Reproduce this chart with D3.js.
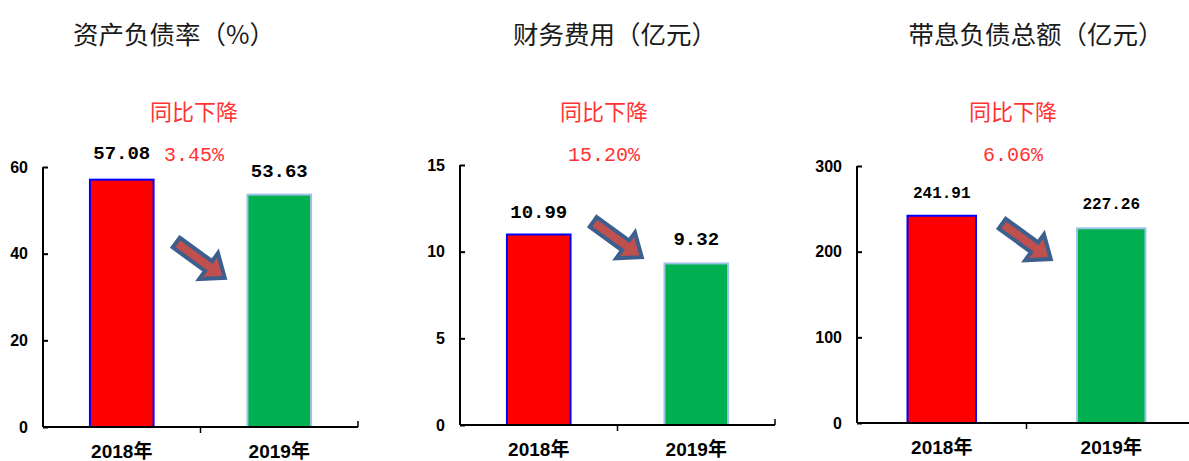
<!DOCTYPE html>
<html>
<head>
<meta charset="utf-8">
<script src="https://cdn.jsdelivr.net/npm/d3@7"></script>
<style>
  body { margin: 0; background: #fff; }
  svg { display: block; }
</style>
</head>
<body>
<svg id="chart" width="1189" height="461"></svg>
<script>
// ---------- data ----------
const panelTitles = ["资产负债率（%）", "财务费用（亿元）", "带息负债总额（亿元）"];
const categories = ["2018年", "2019年"];
const values2018 = [57.08, 10.99, 241.91];
const values2019 = [53.63, 9.32, 227.26];
const changeLabels = ["3.45%", "15.20%", "6.06%"];
const changeNote = "同比下降";
const yMax = [60, 15, 300];
const yTicks = [[0, 20, 40, 60], [0, 5, 10, 15], [0, 100, 200, 300]];
const arrowLevel = [38.5, 10.7, 212];   // arrow centre, in data units

// ---------- layout ----------
const layout = [
  { left: 43,  right: 358,  top: 167, bottom: 427, titleDx: 131, noteDx: 151, valueFont: 19, firstLabelGap: 26 },
  { left: 460, right: 775,  top: 165, bottom: 425, titleDx: 155, noteDx: 144, valueFont: 19, firstLabelGap: 22 },
  { left: 857, right: 1196, top: 166, bottom: 423, titleDx: 179, noteDx: 156, valueFont: 16, firstLabelGap: 22 }
];

const svg = d3.select("#chart");
const barFill = ["#ff0000", "#00b050"];
const barStroke = ["#0000ff", "#9dc3e6"];
const red = "#ff3333";

panelTitles.forEach((title, i) => {
  const L = layout[i];
  const vals = [values2018[i], values2019[i]];
  const g = svg.append("g");

  const x = d3.scaleBand().domain(categories).range([L.left, L.right])
    .paddingInner(0.596).paddingOuter(0.298);
  const y = d3.scaleLinear().domain([0, yMax[i]]).range([L.bottom, L.top]);
  const step = x.step();

  // title
  g.append("text")
    .attr("x", L.left + L.titleDx).attr("y", 32)
    .attr("text-anchor", "middle").attr("dominant-baseline", "central")
    .attr("font-family", "'Noto Sans CJK SC', sans-serif")
    .attr("font-size", 25.5).attr("fill", "#1a1a1a")
    .text(title);

  // note
  g.append("text")
    .attr("x", L.left + L.noteDx).attr("y", 110)
    .attr("text-anchor", "middle").attr("dominant-baseline", "central")
    .attr("font-family", "'Noto Sans CJK SC', sans-serif")
    .attr("font-size", 22).attr("fill", red)
    .text(changeNote);

  g.append("text")
    .attr("x", L.left + L.noteDx).attr("y", 155)
    .attr("text-anchor", "middle").attr("dominant-baseline", "central")
    .attr("font-family", "'Liberation Mono', monospace")
    .attr("font-size", 20).attr("fill", red)
    .text(changeLabels[i]);

  // bars
  g.selectAll("rect.bar").data(vals).enter().append("rect")
    .attr("class", "bar")
    .attr("x", (d, k) => x(categories[k]))
    .attr("width", x.bandwidth())
    .attr("y", d => y(d))
    .attr("height", d => y(0) - y(d))
    .attr("fill", (d, k) => barFill[k])
    .attr("stroke", (d, k) => barStroke[k])
    .attr("stroke-width", 2);

  // value labels
  g.selectAll("text.val").data(vals).enter().append("text")
    .attr("class", "val")
    .attr("x", (d, k) => x(categories[k]) + x.bandwidth() / 2)
    .attr("y", (d, k) => y(d) - (k === 0 ? L.firstLabelGap : 23))
    .attr("text-anchor", "middle").attr("dominant-baseline", "central")
    .attr("font-family", "'Liberation Mono', monospace")
    .attr("font-weight", "bold")
    .attr("font-size", L.valueFont).attr("fill", "#000")
    .text(d => d.toFixed(2));

  // y axis
  const yAxis = d3.axisLeft(y).tickValues(yTicks[i]).tickSize(-5).tickPadding(15)
    .tickFormat(d3.format("d"));
  const ya = g.append("g").attr("transform", `translate(${L.left},0)`).call(yAxis);
  ya.select(".domain").attr("stroke", "#000").attr("stroke-width", 2)
    .attr("d", `M0,${L.top}V${L.bottom}`);
  ya.selectAll(".tick line").attr("stroke", "#000").attr("stroke-width", 2);
  ya.selectAll(".tick text")
    .attr("font-family", "'Liberation Sans', Arial, sans-serif")
    .attr("font-weight", "bold").attr("font-size", 16).attr("fill", "#000");

  // x axis
  const xAxis = d3.axisBottom(x).tickSize(0).tickPadding(24);
  const xa = g.append("g").attr("transform", `translate(0,${L.bottom})`).call(xAxis);
  xa.select(".domain").attr("stroke", "#000").attr("stroke-width", 2)
    .attr("d", `M${L.left},0H${L.right}`);
  xa.selectAll(".tick text")
    .attr("dy", null).attr("dominant-baseline", "central")
    .attr("font-family", "'Liberation Sans', 'Noto Sans CJK SC', sans-serif")
    .attr("font-weight", "bold").attr("font-size", 19).attr("fill", "#000");
  // category separators
  xa.append("line").attr("x1", L.left + step).attr("x2", L.left + step)
    .attr("y1", 0).attr("y2", 6).attr("stroke", "#000").attr("stroke-width", 1.5);
  xa.append("line").attr("x1", L.left + 2 * step).attr("x2", L.left + 2 * step)
    .attr("y1", 0).attr("y2", -6).attr("stroke", "#000").attr("stroke-width", 1.5);

  // arrow
  const cx = L.left + step, cy = y(arrowLevel[i]);
  g.append("path")
    .attr("d", "M-30,-6L10,-6L10,-16L30,0L10,16L10,6L-30,6Z")
    .attr("transform", `translate(${cx},${cy}) rotate(36)`)
    .attr("fill", "#c0504d").attr("stroke", "#3c5f8e")
    .attr("stroke-width", 4).attr("stroke-linejoin", "miter");
});
</script>
</body>
</html>
